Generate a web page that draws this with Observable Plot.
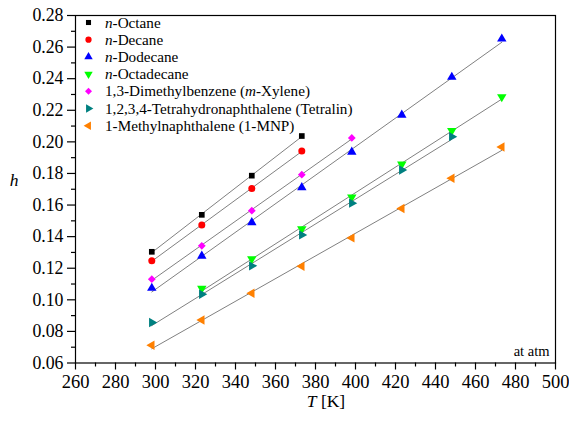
<!DOCTYPE html>
<html><head><meta charset="utf-8">
<script src="https://cdn.jsdelivr.net/npm/d3@7"></script>
<script src="https://cdn.jsdelivr.net/npm/@observablehq/plot@0.6"></script>
<style>body{margin:0;background:#fff} #chart{width:569px;height:421px}
#chart svg, #chart svg text { font-family: "Liberation Serif", "Times New Roman", Times, serif !important; }
</style>
</head><body><div id="chart"></div>
<script>
// Temperatures [K]
const temps = [298.15, 323.15, 348.15, 373.15, 398.15, 423.15, 448.15, 473.15];
// h values per fluid
const octane     = [0.1304, 0.1538, 0.1786, 0.2037];
const decane     = [0.1247, 0.1473, 0.1705, 0.1942];
const dodecane   = [0.1074, 0.1278, 0.1490, 0.1711, 0.1936, 0.2170, 0.2410, 0.2652];
const octadecane = [0.1072, 0.1259, 0.1449, 0.1650, 0.1858, 0.2070, 0.2285];
const xylene     = [0.1131, 0.1342, 0.1564, 0.1792, 0.2025];
const tetralin   = [0.0856, 0.1035, 0.1215, 0.1411, 0.1612, 0.1822, 0.2033];
const mnp        = [0.0712, 0.0872, 0.1042, 0.1212, 0.1392, 0.1578, 0.1770, 0.1968];
// starting temperature index of each series
const startIdx = [0, 0, 0, 1, 0, 0, 0];
const seriesValues = [octane, decane, dodecane, octadecane, xylene, tetralin, mnp];
const seriesNames = ["*n*-Octane", "*n*-Decane", "*n*-Dodecane", "*n*-Octadecane",
  "1,3-Dimethylbenzene (*m*-Xylene)", "1,2,3,4-Tetrahydronaphthalene (Tetralin)",
  "1-Methylnaphthalene (1-MNP)"];
const seriesColors = ["#000000", "#ff0000", "#0000ff", "#00ff00", "#ff00ff", "#008080", "#ff8000"];
const seriesSymbols = ["square", "circle", "triangle", "triangle", "square", "triangle", "triangle"];
const seriesRotate = [0, 0, 0, 180, 45, 90, -90];
const seriesR = [3.2, 3.5, 3.5, 3.5, 3.1, 3.5, 3.5];

const xMajor = d3.range(260, 501, 20);
const xMinor = d3.range(270, 500, 20);
const yMajor = d3.range(0.06, 0.2801, 0.02).map(v => +v.toFixed(2));
const yMinor = d3.range(0.07, 0.28, 0.02).map(v => +v.toFixed(2));

const rows = [];
seriesValues.forEach((vals, s) => {
  vals.forEach((h, i) => rows.push({series: s, T: temps[startIdx[s] + i], h}));
});

const FONT = "'Liberation Serif', 'Times New Roman', Times, serif";

const marks = [
  Plot.frame({stroke: "#000", strokeWidth: 1.2}),
  Plot.linearRegressionY(rows, {x: "T", y: "h", z: "series", stroke: "#808080", strokeWidth: 1, ci: 0}),
];
seriesValues.forEach((_, s) => {
  marks.push(Plot.dot(rows.filter(d => d.series === s), {
    x: "T", y: "h", symbol: seriesSymbols[s], fill: seriesColors[s], stroke: "none",
    r: seriesR[s], rotate: seriesRotate[s]
  }));
});
marks.push(
  Plot.axisX({ticks: xMajor, tickSize: 7, tickPadding: 5, tickFormat: d => d, label: null, strokeWidth: 1.2, fontFamily: FONT, fontSize: 18.5}),
  Plot.axisX({ticks: xMinor, tickSize: 4, tickFormat: () => "", label: null, strokeWidth: 1.2}),
  Plot.axisY({ticks: yMajor, tickSize: 8, tickPadding: 4, tickFormat: d3.format(".2f"), label: null, strokeWidth: 1.2, fontFamily: FONT, fontSize: 17.8}),
  Plot.axisY({ticks: yMinor, tickSize: 4, tickFormat: () => "", label: null, strokeWidth: 1.2}),
  Plot.text(["at atm"], {frameAnchor: "bottom-right", dx: -6, dy: -7, fontSize: 14.5, textAnchor: "end", fontFamily: FONT})
);

const chart = Plot.plot({
  width: 569, height: 421,
  marginLeft: 75, marginRight: 14, marginTop: 15, marginBottom: 58.5,
  x: {domain: [260, 500]},
  y: {domain: [0.06, 0.28]},
  style: {fontFamily: FONT, fontSize: "17px", color: "#000", background: "#fff"},
  marks
});
document.getElementById("chart").appendChild(chart);

const svg = d3.select(chart);
function addRich(sel, str) {
  str.split("*").forEach((part, i) => {
    if (!part) return;
    sel.append("tspan").attr("font-style", i % 2 ? "italic" : null).text(part);
  });
}
// axis labels
const tl = svg.append("text").attr("x", 326).attr("y", 407).attr("text-anchor", "middle")
  .attr("font-size", 17.5);
addRich(tl, "*T* [K]");
svg.append("text").attr("x", 14).attr("y", 186).attr("text-anchor", "middle")
  .attr("font-size", 17.5).attr("font-style", "italic").text("h");

// legend
const lg = svg.append("g");
seriesNames.forEach((name, s) => {
  const cy = 22.5 + s * 17.2;
  const area = Math.PI * seriesR[s] * seriesR[s] * 0.8;
  const sym = seriesSymbols[s] === "square" ? d3.symbolSquare : seriesSymbols[s] === "circle" ? d3.symbolCircle : d3.symbolTriangle;
  lg.append("path").attr("d", d3.symbol(sym, area)())
    .attr("transform", `translate(88.5,${cy}) rotate(${seriesRotate[s]})`)
    .attr("fill", seriesColors[s]);
  const t = lg.append("text").attr("x", 105).attr("y", cy + 5).attr("text-anchor", "start")
    .attr("font-size", 15.2);
  addRich(t, name);
});
</script></body></html>
